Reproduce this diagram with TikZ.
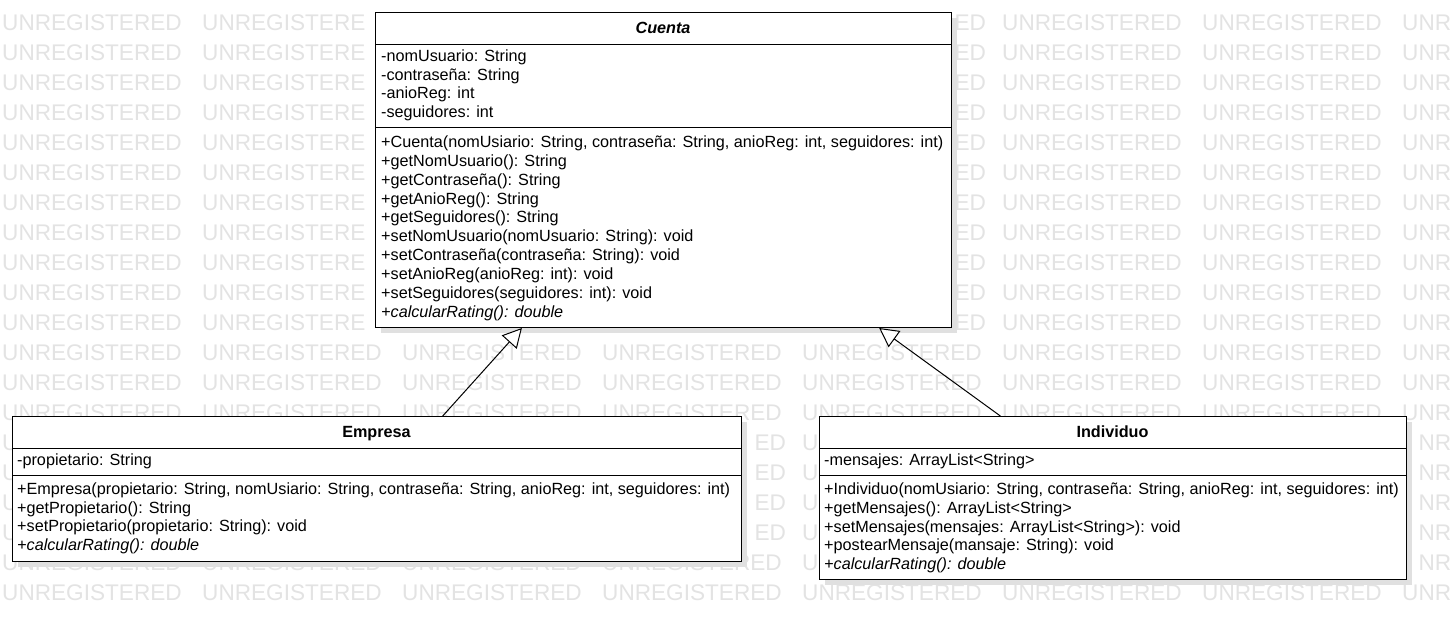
\documentclass[tikz,border=0pt]{standalone}
\usepackage{fontspec}
\setmainfont{Liberation Sans}
\usetikzlibrary{arrows.meta,shadows}
\tikzset{
  cls/.style={draw=black, line width=1pt, fill=white, rectangle, inner sep=0pt, anchor=north west,
    drop shadow={shadow xshift=5pt, shadow yshift=-5pt, fill=black!12, opacity=1}},
  sep/.style={draw=black, line width=1pt},
  txt/.style={inner sep=0pt, anchor=base west, font=\fontsize{16.2}{19}\selectfont},
  ttl/.style={inner sep=0pt, anchor=base, font=\fontsize{16.2}{19}\selectfont\bfseries},
  wm/.style={inner sep=0pt, anchor=base west, text=black!11, font=\fontsize{22.6}{26}\selectfont},
  wmr/.style={wm, anchor=base east},
  inherit/.style={draw=black, line width=1pt, -{Triangle[open, length=19pt, width=20pt, fill=white]}}
}
\begin{document}
\begin{tikzpicture}[x=1pt,y=-1pt]
\useasboundingbox[fill=white] (0,0) rectangle (1455,629);
% watermark (only the parts not hidden by the class boxes)
\foreach \r in {0,...,10}{
  \node[wm] (wma-\r-0) at (2,{30+30*\r}) {UNREGISTERED};
  \node[wm] (wma-\r-1) at (202,{30+30*\r}) {UNREGISTERE};
  \node[wmr] (wma-\r-4) at (986.1,{30+30*\r}) {ED};
  \node[wm] (wma-\r-5) at (1002,{30+30*\r}) {UNREGISTERED};
  \node[wm] (wma-\r-6) at (1202,{30+30*\r}) {UNREGISTERED};
  \node[wm] (wma-\r-7) at (1402,{30+30*\r}) {UNR};
}
\foreach \r in {11,12,13,19}{
  \foreach \c in {0,...,6}{
    \node[wm] (wmb-\r-\c) at ({2+200*\c},{30+30*\r}) {UNREGISTERED};
  }
  \node[wm] (wmb-\r-7) at (1402,{30+30*\r}) {UNR};
}
\foreach \r in {14,...,17}{
  \node[wm] (wmc-\r-0) at (2,{30+30*\r}) {U};
  \node[wmr] (wmc-\r-3) at (786.1,{30+30*\r}) {ED};
  \node[wm] (wmc-\r-4) at (802,{30+30*\r}) {U};
  \node[wm] (wmc-\r-7) at (1418.3,{30+30*\r}) {NR};
}
\foreach \c in {0,...,3}{
  \node[wm] (wmd-18-\c) at ({2+200*\c},570) {UNREGISTERED};
}
\node[wm] (wmd-18-4) at (802,570) {U};
\node[wm] (wmd-18-7) at (1418.3,570) {NR};
% Cuenta
\node[cls, minimum width=576pt, minimum height=315pt] (cuenta) at (375,12) {};
\draw[sep] (375,44) -- (951,44);
\draw[sep] (375,127) -- (951,127);
\node[ttl, font=\fontsize{16.2}{19}\selectfont\bfseries\itshape] (cuenta-t) at (663,33) {Cuenta};
\node[txt] (c-a1) at (381,61) {-nomUsuario: String};
\node[txt] (c-a2) at (381,80) {-contraseña: String};
\node[txt] (c-a3) at (381,98.5) {-anioReg: int};
\node[txt] (c-a4) at (381,117) {-seguidores: int};
\node[txt] (c-m1) at (381,147) {+Cuenta(nomUsiario: String, contraseña: String, anioReg: int, seguidores: int)};
\node[txt] (c-m2) at (381,166) {+getNomUsuario(): String};
\node[txt] (c-m3) at (381,185) {+getContraseña(): String};
\node[txt] (c-m4) at (381,204) {+getAnioReg(): String};
\node[txt] (c-m5) at (381,222.5) {+getSeguidores(): String};
\node[txt] (c-m6) at (381,241.5) {+setNomUsuario(nomUsuario: String): void};
\node[txt] (c-m7) at (381,260.5) {+setContraseña(contraseña: String): void};
\node[txt] (c-m8) at (381,279) {+setAnioReg(anioReg: int): void};
\node[txt] (c-m9) at (381,298) {+setSeguidores(seguidores: int): void};
\node[txt] (c-m10) at (381,317) {\itshape +calcularRating(): double};
% Empresa
\node[cls, minimum width=729pt, minimum height=145pt] (empresa) at (12,416) {};
\draw[sep] (12,448) -- (741,448);
\draw[sep] (12,475) -- (741,475);
\node[ttl] (empresa-t) at (376.5,437.5) {Empresa};
\node[txt] (e-a1) at (17,465) {-propietario: String};
\node[txt] (e-m1) at (17,494) {+Empresa(propietario: String, nomUsiario: String, contraseña: String, anioReg: int, seguidores: int)};
\node[txt] (e-m2) at (17,513) {+getPropietario(): String};
\node[txt] (e-m3) at (17,531.5) {+setPropietario(propietario: String): void};
\node[txt] (e-m4) at (17,550) {\itshape +calcularRating(): double};
% Individuo
\node[cls, minimum width=587pt, minimum height=163pt] (individuo) at (819,416) {};
\draw[sep] (819,448) -- (1406,448);
\draw[sep] (819,475) -- (1406,475);
\node[ttl] (individuo-t) at (1112.5,437.5) {Individuo};
\node[txt] (i-a1) at (824,465) {-mensajes: ArrayList<String>};
\node[txt] (i-m1) at (824,494.5) {+Individuo(nomUsiario: String, contraseña: String, anioReg: int, seguidores: int)};
\node[txt] (i-m2) at (824,513) {+getMensajes(): ArrayList<String>};
\node[txt] (i-m3) at (824,532) {+setMensajes(mensajes: ArrayList<String>): void};
\node[txt] (i-m4) at (824,550.5) {+postearMensaje(mansaje: String): void};
\node[txt] (i-m5) at (824,569) {\itshape +calcularRating(): double};
% generalizations
\draw[inherit] (empresa) -- (cuenta);
\draw[inherit] (individuo) -- (cuenta);
\end{tikzpicture}
\end{document}
